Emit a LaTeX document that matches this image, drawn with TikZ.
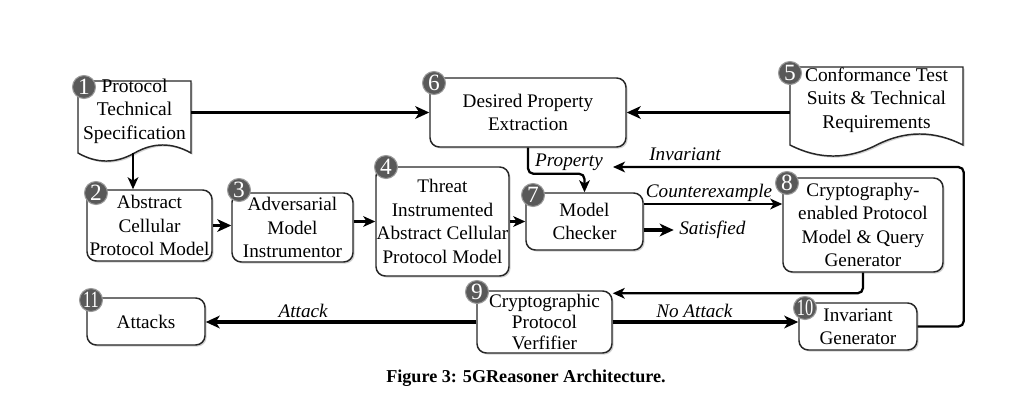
\documentclass[tikz,border=0pt]{standalone}
\usepackage{fontspec}
\setmainfont{Liberation Serif}
\usepackage{graphicx}
\usetikzlibrary{calc, positioning, arrows.meta, shadows}

\tikzset{
  blk/.style={draw=black!85, line width=1.1pt, rounded corners=7pt, fill=white, align=center,
    inner sep=0pt, font=\fontsize{14.4}{17.6}\selectfont,
    drop shadow={shadow xshift=1.2pt, shadow yshift=-1.2pt, opacity=.35}},
  docu/.style={draw=black!85, line width=1.1pt, fill=white,
    drop shadow={shadow xshift=1.2pt, shadow yshift=-1.2pt, opacity=.35}},
  doctxt/.style={align=center, inner sep=0pt, font=\fontsize{14.6}{17.6}\selectfont},
  num/.style={circle, fill=black!65, draw=black!40, line width=0.8pt, text=white, inner sep=0pt,
    minimum size=17.25pt, font=\fontsize{17.5}{17.5}\selectfont},
  arr/.style={line width=2.4pt, -{Stealth[length=10.5pt,width=9.5pt,inset=3pt]}},
  arrthin/.style={line width=1.7pt, -{Stealth[length=9pt,width=8pt,inset=2.5pt]}},
  lbl/.style={font=\fontsize{14.4}{17}\selectfont\itshape, inner sep=0pt},
}

\begin{document}
\begin{tikzpicture}[x=0.75pt,y=-0.75pt]
\useasboundingbox (0,0) rectangle (1029,405);

%Shape: Document [id:spec]
\draw[docu] (78,81) -- (191,81) -- (191,153) .. controls (172.2,142.3) and (153.3,142.3) .. (134.5,153) .. controls (115.7,163.7) and (96.8,163.7) .. (78,153) -- cycle;
%Shape: Document [id:conf]
\draw[docu] (790,67) -- (963,67) -- (963,145) .. controls (934.2,130.3) and (905.3,130.3) .. (876.5,145) .. controls (847.7,159.7) and (818.8,159.7) .. (790,145) -- cycle;

% Text Node
\node[doctxt, minimum width=84.75pt, minimum height=45pt] (d1) at (134.5,111) {Protocol\\Technical\\Specification};
% Text Node
\node[doctxt, minimum width=129.75pt, minimum height=49.5pt] (d5) at (876.5,100) {Conformance Test\\Suits \& Technical\\Requirements};

%Rounded Rect
\node[blk, minimum width=93.75pt, minimum height=53.25pt] (b2) at (149.5,225.5) {Abstract\\Cellular\\Protocol Model};
\node[blk, minimum width=90.75pt, minimum height=51.75pt] (b3) at (292.5,227.5) {Adversarial\\Model\\Instrumentor};
\node[blk, minimum width=99.75pt, minimum height=81.75pt] (b4) at (442.5,221.5) {Threat\\Instrumented\\Abstract Cellular\\Protocol Model};
\node[blk, minimum width=147pt, minimum height=51.75pt] (b6) at (528,112.5) {Desired Property\\Extraction};
\node[blk, minimum width=87.75pt, minimum height=42.75pt] (b7) at (584.5,221.5) {Model\\Checker};
\node[blk, minimum width=120pt, minimum height=70.5pt] (b8) at (863,225) {Cryptography-\\enabled Protocol\\Model \& Query\\Generator};
\node[blk, minimum width=101.25pt, minimum height=46.5pt, font=\fontsize{14.4}{15.5}\selectfont] (b9) at (544.5,322) {Cryptographic\\Protocol\\Verfifier};
\node[blk, minimum width=88.5pt, minimum height=35.25pt] (b10) at (858,326.5) {Invariant\\Generator};
\node[blk, minimum width=88.5pt, minimum height=35.25pt] (b11) at (146,321.5) {Attacks};

%Straight Lines
\coordinate (d1b) at (133,153);
\draw[arrthin] (d1b) -- (d1b |- b2.north);
\draw[arr] (d1.east |- b6.west) -- (b6.west);
\draw[arr] (d5.west |- b6.east) -- (b6.east);
\draw[arr] (b2.east) -- (b2.east -| b3.west);
\draw[arrthin] (b3.east |- b4.west) -- (b4.west);
\draw[arrthin] (b4.east |- b7.west) -- (b7.west);
\draw[arrthin, rounded corners=4pt] (b6.south) -- ++(0,26) -| (b7.north);
\coordinate (ce) at ($(b7.east)+(0,-17.5)$);
\draw[arrthin] (ce) -- (ce -| b8.west) node[midway, above=1pt, lbl, xshift=-3pt] {Counterexample};
\coordinate (sa) at ($(b7.east)+(0,8.5)$);
\draw[arr] (sa) -- ++(30,0) node[right=3pt, lbl] (tsat) {Satisfied};
\draw[arrthin, rounded corners=4pt] (b8.south) |- ($(b9.north east)+(0,3)$);
\coordinate (inv) at (613,167);
\draw[arrthin, rounded corners=4pt] (b10.east) -- ++(46,0) |- (inv);
\draw[arr] (b9.west) -- (b9.west -| b11.east) node[pos=0.64, above=2pt, lbl] {Attack};
\draw[arr] (b9.east) -- (b9.east -| b10.west) node[pos=0.44, above=2pt, lbl] {No Attack};

% Text Node
\node[lbl] (tprop) at (569,162) {Property};
% Text Node
\node[lbl] (tinv) at (685,154) {Invariant};

%Shape: Circle
\node[num] (n1) at (84,87) {1};
\node[num] (n2) at (96,193) {2};
\node[num] (n3) at (239,190) {3};
\node[num] (n4) at (386,167) {4};
\node[num] (n5) at (790,73) {5};
\node[num] (n6) at (434,83) {6};
\node[num] (n7) at (533,195) {7};
\node[num] (n8) at (787,183) {8};
\node[num] (n9) at (477,292) {9};
\node[num] (n10) at (805,308) {\scalebox{0.7}[1]{10}};
\node[num] (n11) at (91,300) {\scalebox{0.7}[1]{11}};

% Text Node
\node[font=\fontsize{13.6}{16}\selectfont\bfseries] (cap) at (526,378) {Figure 3: 5GReasoner Architecture.};

\end{tikzpicture}
\end{document}
